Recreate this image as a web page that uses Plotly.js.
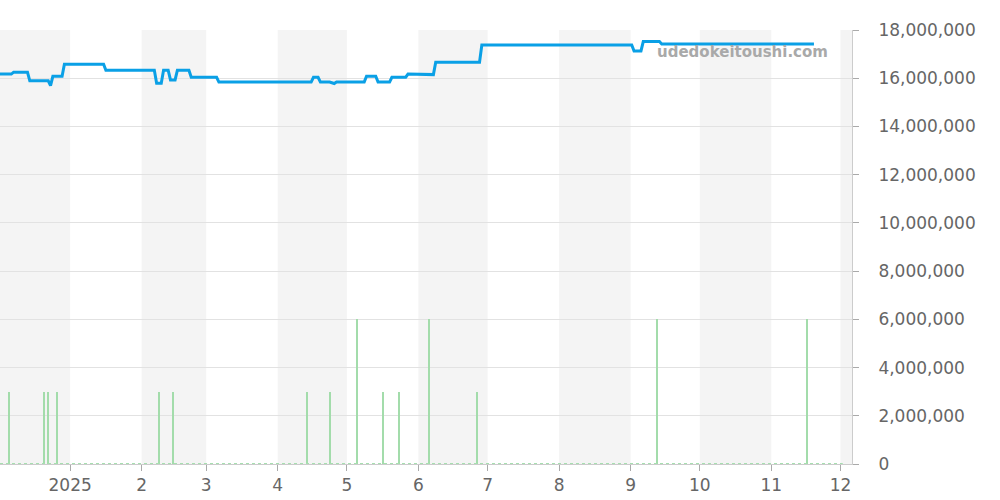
<!DOCTYPE html>
<html><head><meta charset="utf-8">
<script src="https://cdn.plot.ly/plotly-3.0.1.min.js"></script>
<style>html,body{margin:0;padding:0;background:#fff}#chart{width:1000px;height:500px}</style>
</head><body><div id="chart"></div>
<script>
// Price series (JPY)
const priceDates = ["2024-12-01","2024-12-06","2024-12-07","2024-12-13","2024-12-14","2024-12-22","2024-12-23","2024-12-24","2024-12-28","2024-12-29",
"2025-01-15","2025-01-16","2025-02-06","2025-02-07","2025-02-09","2025-02-10","2025-02-12","2025-02-13","2025-02-15","2025-02-16","2025-02-21","2025-02-22",
"2025-03-05","2025-03-06","2025-04-15","2025-04-16","2025-04-18","2025-04-19","2025-04-23","2025-04-25","2025-04-26","2025-05-08","2025-05-09","2025-05-13",
"2025-05-14","2025-05-19","2025-05-20","2025-05-26","2025-05-27","2025-05-29","2025-05-30","2025-06-07","2025-06-08","2025-06-27","2025-06-28",
"2025-09-01","2025-09-02","2025-09-05","2025-09-06","2025-09-13","2025-09-14","2025-11-19"];
const priceValues = [16170000,16170000,16250000,16250000,15890000,15890000,15690000,16080000,16080000,16580000,
16580000,16330000,16330000,15790000,15790000,16330000,16330000,15930000,15930000,16330000,16330000,16040000,
16040000,15840000,15840000,16040000,16040000,15840000,15840000,15780000,15840000,15840000,16080000,16080000,
15840000,15840000,16040000,16040000,16170000,16170000,16150000,16150000,16660000,16660000,17380000,
17380000,17130000,17130000,17520000,17520000,17420000,17420000];

// Transactions count
const volDates = ["2024-12-05","2024-12-20","2024-12-22","2024-12-26","2025-02-08","2025-02-14","2025-04-13","2025-04-23","2025-05-05","2025-05-16","2025-05-23","2025-06-05","2025-06-26","2025-09-12","2025-11-16"];
const volValues = [1,1,1,1,1,1,1,1,2,1,1,2,1,2,2];

// Month ticks
const tickDates = ["2025-01-01","2025-02-01","2025-03-01","2025-04-01","2025-05-01","2025-06-01","2025-07-01","2025-08-01","2025-09-01","2025-10-01","2025-11-01","2025-12-01"];
const tickLabels = ["2025","2","3","4","5","6","7","8","9","10","11","12"];
const shadedMonths = [["2024-11-25","2025-01-01"],["2025-02-01","2025-03-01"],["2025-04-01","2025-05-01"],["2025-06-01","2025-07-01"],["2025-08-01","2025-09-01"],["2025-10-01","2025-11-01"],["2025-12-01","2025-12-10"]];

const xRange = ["2024-12-01 14:00","2025-12-06"];
const DAY = 86400000;

const shapes = shadedMonths.map(m => ({type:"rect", xref:"x", yref:"paper", x0:m[0], x1:m[1], y0:0, y1:1, fillcolor:"#f4f4f4", line:{width:0}, layer:"below"}));
shapes.push({type:"line", xref:"x", yref:"y", x0:xRange[0], x1:"2025-12-02", y0:0, y1:0, line:{color:"#a6dfb0", width:2, dash:"dot"}, layer:"above"});

const traces = [
  {type:"bar", x:volDates, y:volValues, yaxis:"y2", xperiod:DAY, xperiodalignment:"middle", width:DAY*0.87,
   marker:{color:"#a3dcab", line:{width:0}}, hoverinfo:"skip", showlegend:false},
  {type:"scatter", mode:"lines", x:priceDates, y:priceValues, xperiod:DAY, xperiodalignment:"middle",
   line:{color:"#0aa0e6", width:3}, showlegend:false}
];

const font = {family:"DejaVu Sans, Verdana, sans-serif", size:17, color:"#666"};
const layout = {
  width:1000, height:500,
  margin:{l:0, r:148, t:30, b:36},
  paper_bgcolor:"#fff", plot_bgcolor:"rgba(0,0,0,0)",
  font:font, separators:".,",
  showlegend:false,
  bargap:0,
  xaxis:{type:"date", range:xRange, tickvals:tickDates, ticktext:tickLabels, ticks:"outside", ticklen:6, tickcolor:"#aaa",
         showgrid:false, showline:true, linecolor:"#ccc", zeroline:false, tickfont:font},
  yaxis:{side:"right", range:[0,18000000], tickvals:[0,2000000,4000000,6000000,8000000,10000000,12000000,14000000,16000000,18000000],
         tickformat:",d", ticks:"outside", ticklen:6, tickcolor:"#aaa", showline:true, linecolor:"#ccc",
         gridcolor:"#e2e2e2", zeroline:false, tickfont:font, ticklabelstandoff:16},
  yaxis2:{overlaying:"y", side:"left", range:[0,6], visible:false, showgrid:false},
  shapes:shapes,
  annotations:[{xref:"paper", yref:"paper", x:830/852, y:1-(52-30)/434, xanchor:"right", yanchor:"middle", showarrow:false,
    text:"<b>udedokeitoushi.com</b>", font:{family:"DejaVu Sans, sans-serif", size:15, color:"#a9a9a9"}}]
};
Plotly.newPlot("chart", traces, layout, {staticPlot:true, displayModeBar:false});
</script></body></html>
